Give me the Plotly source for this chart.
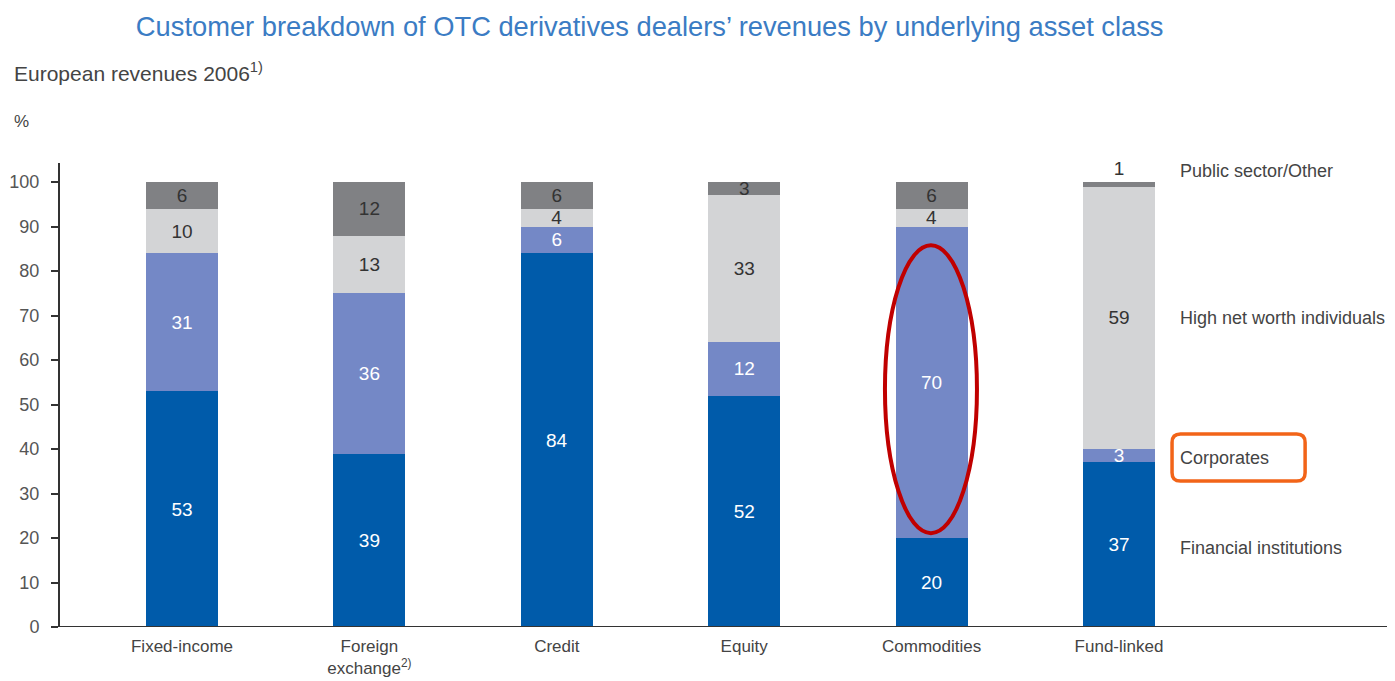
import plotly.graph_objects as go

categories = ["Fixed-income", "Foreign<br>exchange<sup>2)</sup>", "Credit", "Equity", "Commodities", "Fund-linked"]
series_names = ["Financial institutions", "Corporates", "High net worth individuals", "Public sector/Other"]
financial = [53, 39, 84, 52, 20, 37]
corporates = [31, 36, 6, 12, 70, 3]
hnwi = [10, 13, 4, 33, 4, 59]
public = [6, 12, 6, 3, 6, 1]

colors = ["#005BAA", "#7488C6", "#D3D4D6", "#808184"]
text_colors = ["white", "white", "#333333", "#333333"]

x = list(range(len(categories)))
FONT = "Liberation Sans, Arial, sans-serif"

# page body has an 8px margin; figure coordinates are compensated for it
L, T, R, B = 52, 155, 13, 62
PH = 681 - T - B

fig = go.Figure()
for name, vals, col, tcol in zip(series_names, [financial, corporates, hnwi, public], colors, text_colors):
    if name == "Public sector/Other":
        tpos = ["inside"] * 5 + ["outside"]
    else:
        tpos = "inside"
    fig.add_trace(go.Bar(
        x=x, y=vals, name=name,
        marker=dict(color=col, line=dict(width=0)),
        width=0.385,
        text=[str(v) for v in vals],
        textposition=tpos,
        insidetextanchor="middle",
        constraintext="none",
        textangle=0,
        insidetextfont=dict(color=tcol, size=19, family=FONT),
        outsidetextfont=dict(color="#333333", size=19, family=FONT),
        cliponaxis=False,
        hoverinfo="skip",
    ))

fig.update_layout(
    barmode="stack",
    width=1395, height=681,
    margin=dict(l=L, r=R, t=T, b=B),
    paper_bgcolor="white", plot_bgcolor="white",
    showlegend=False,
    font=dict(family=FONT, color="#444444"),
    title=dict(
        text="Customer breakdown of OTC derivatives dealers\u2019 revenues by underlying asset class",
        font=dict(size=27.3, color="#3B7CC4", family=FONT),
        x=0.460, xanchor="center", y=1 - 18 / 681, yanchor="middle",
    ),
)

fig.update_xaxes(
    range=[-0.651, 6.446],
    tickvals=x, ticktext=categories,
    showgrid=False, zeroline=False,
    showline=False, ticks="",
    automargin=False,
    ticklabelstandoff=7,
    tickfont=dict(size=17, color="#444444", family=FONT),
)
fig.update_yaxes(
    range=[0, 104.3],
    tickvals=list(range(0, 101, 10)),
    showgrid=False, zeroline=False,
    showline=True, linecolor="#333333", linewidth=2,
    ticks="outside", ticklen=7, tickwidth=2, tickcolor="#333333",
    ticklabelstandoff=8,
    automargin=False,
    tickfont=dict(size=18, color="#555555", family=FONT),
)

# x axis baseline
fig.add_shape(type="line", xref="paper", yref="y", x0=-0.005, x1=1, y0=0, y1=0,
              line=dict(color="#333333", width=2))

PW = 1395 - L - R
# subtitle and unit
fig.add_annotation(text="European revenues 2006<sup>1)</sup>", xref="paper", yref="paper",
                   x=(4 - L) / PW, y=1.0 + (T - 64) / PH, xanchor="left", yanchor="middle",
                   showarrow=False, font=dict(size=21, color="#444444", family=FONT))
fig.add_annotation(text="%", xref="paper", yref="paper",
                   x=(4 - L) / PW, y=1.0 + (T - 114) / PH, xanchor="left", yanchor="middle",
                   showarrow=False, font=dict(size=17, color="#444444", family=FONT))

# right-side legend labels
label_y = [17.8, 38.0, 69.4, 102.6]
for name, yy in zip(series_names, label_y):
    fig.add_annotation(text=name, x=5.315, y=yy, xref="x", yref="y", xanchor="left",
                       yanchor="middle", showarrow=False,
                       font=dict(size=18, color="#444444", family=FONT))

# red ellipse highlight
fig.add_shape(type="circle", xref="x", yref="y", x0=3.751, x1=4.242, y0=21.1, y1=85.8,
              line=dict(color="#C00000", width=4))

# orange rounded rectangle around "Corporates"
x0, x1, y0, y1 = 5.283, 5.993, 32.8, 43.4
rx, ry = 0.045, 1.9
path = (f"M {x0+rx},{y0} L {x1-rx},{y0} Q {x1},{y0} {x1},{y0+ry} "
        f"L {x1},{y1-ry} Q {x1},{y1} {x1-rx},{y1} L {x0+rx},{y1} "
        f"Q {x0},{y1} {x0},{y1-ry} L {x0},{y0+ry} Q {x0},{y0} {x0+rx},{y0} Z")
fig.add_shape(type="path", xref="x", yref="y", path=path,
              line=dict(color="#F26418", width=3.5))

fig.write_html("out.html")
